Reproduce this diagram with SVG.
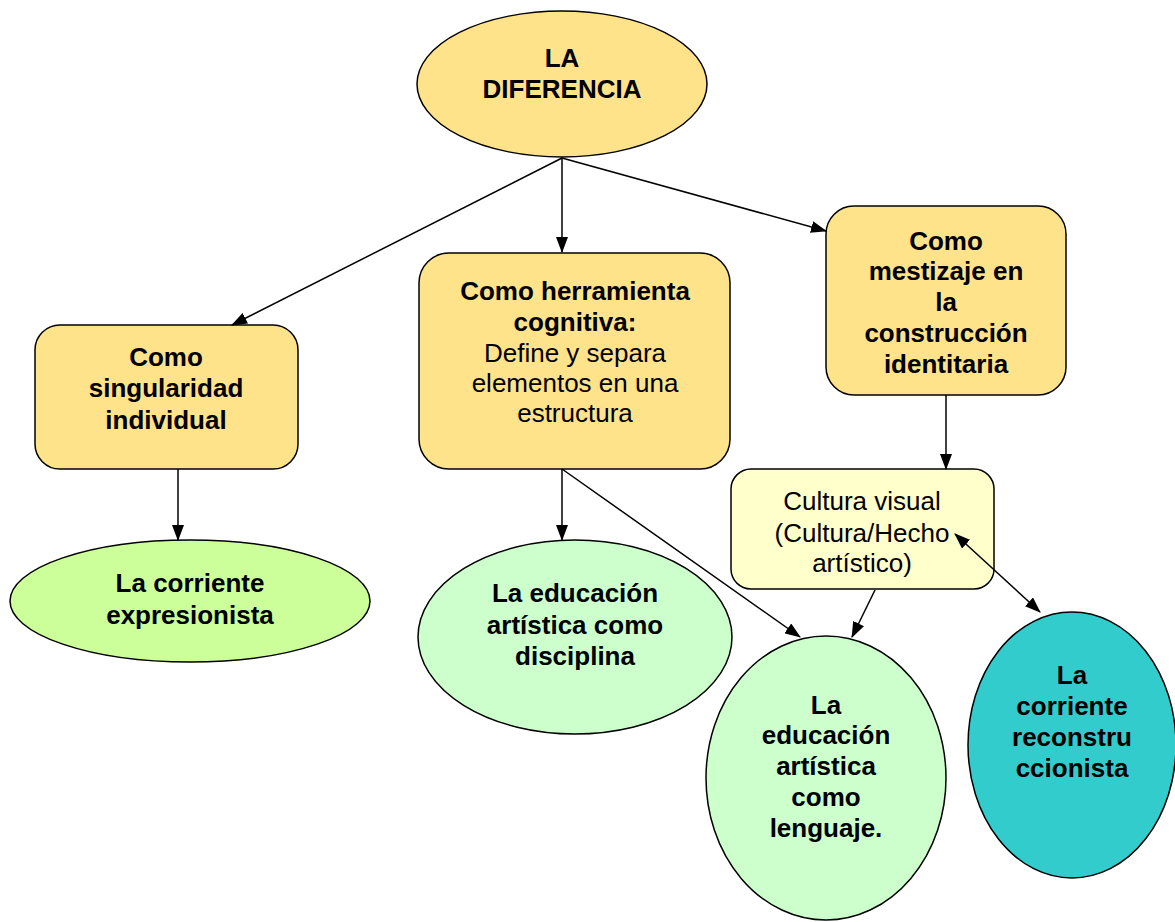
<svg xmlns="http://www.w3.org/2000/svg" width="1175" height="922" viewBox="0 0 1175 922">
<style>
.n{stroke:#000;stroke-width:1.5}
.t{font-family:"Liberation Sans",Arial,sans-serif;font-size:26px;text-anchor:middle;fill:#000}
.b{font-weight:bold}
.c{stroke:#000;stroke-width:1.5;fill:none}
</style>
<defs>
<marker id="ah" markerWidth="16" markerHeight="12" refX="15" refY="6" orient="auto" markerUnits="userSpaceOnUse">
<path d="M0,0 L16,6 L0,12 Z" fill="#000"/>
</marker>
<marker id="as" markerWidth="16" markerHeight="12" refX="1" refY="6" orient="auto" markerUnits="userSpaceOnUse">
<path d="M16,0 L0,6 L16,12 Z" fill="#000"/>
</marker>
</defs>
<rect width="1175" height="922" fill="#fff"/>
<g id="n-diferencia">
<ellipse class="n" cx="562" cy="84" rx="145" ry="73" fill="#FFE38A"/>
<text class="t b" x="562" y="67">LA</text>
<text class="t b" x="562" y="98">DIFERENCIA</text>
</g>
<g id="n-singularidad">
<rect class="n" x="35" y="325" width="263" height="144" rx="25" fill="#FFE38A"/>
<text class="t b" x="166" y="366">Como</text>
<text class="t b" x="166" y="397">singularidad</text>
<text class="t b" x="166" y="429">individual</text>
</g>
<g id="n-herramienta">
<rect class="n" x="419" y="253" width="311" height="216" rx="30" fill="#FFE38A"/>
<text class="t b" x="575" y="300">Como herramienta</text>
<text class="t b" x="575" y="331">cognitiva:</text>
<text class="t" x="575" y="362">Define y separa</text>
<text class="t" x="575" y="392">elementos en una</text>
<text class="t" x="575" y="422">estructura</text>
</g>
<g id="n-mestizaje">
<rect class="n" x="826" y="206" width="240" height="189" rx="28" fill="#FFE38A"/>
<text class="t b" x="946" y="250">Como</text>
<text class="t b" x="946" y="280">mestizaje en</text>
<text class="t b" x="946" y="311">la</text>
<text class="t b" x="946" y="342">construcción</text>
<text class="t b" x="946" y="373">identitaria</text>
</g>
<g id="n-cultura">
<rect class="n" x="731" y="469" width="263" height="120" rx="20" fill="#FFFFCC"/>
<text class="t" x="862" y="510">Cultura visual</text>
<text class="t" x="862" y="542">(Cultura/Hecho</text>
<text class="t" x="862" y="572">artístico)</text>
</g>
<g id="n-expresionista">
<ellipse class="n" cx="190" cy="601" rx="180" ry="61" fill="#CCFF99"/>
<text class="t b" x="190" y="592">La corriente</text>
<text class="t b" x="190" y="624">expresionista</text>
</g>
<g id="n-disciplina">
<ellipse class="n" cx="575" cy="637" rx="157" ry="97" fill="#CCFFCC"/>
<text class="t b" x="575" y="602">La educación</text>
<text class="t b" x="575" y="634">artística como</text>
<text class="t b" x="575" y="665">disciplina</text>
</g>
<g id="n-lenguaje">
<ellipse class="n" cx="826" cy="778" rx="120" ry="142" fill="#CCFFCC"/>
<text class="t b" x="826" y="714">La</text>
<text class="t b" x="826" y="744">educación</text>
<text class="t b" x="826" y="775">artística</text>
<text class="t b" x="826" y="806">como</text>
<text class="t b" x="826" y="837">lenguaje.</text>
</g>
<g id="n-reconstruccionista">
<ellipse class="n" cx="1072" cy="745" rx="104" ry="133" fill="#33CCCC"/>
<text class="t b" x="1072" y="684">La</text>
<text class="t b" x="1072" y="715">corriente</text>
<text class="t b" x="1072" y="746">reconstru</text>
<text class="t b" x="1072" y="777">ccionista</text>
</g>
<g id="connectors">
<line class="c" x1="562" y1="158" x2="232" y2="325" marker-end="url(#ah)"/>
<line class="c" x1="562" y1="158" x2="562" y2="252" marker-end="url(#ah)"/>
<line class="c" x1="562" y1="158" x2="826" y2="231" marker-end="url(#ah)"/>
<line class="c" x1="178" y1="469" x2="178" y2="540" marker-end="url(#ah)"/>
<line class="c" x1="562" y1="469" x2="562" y2="540" marker-end="url(#ah)"/>
<line class="c" x1="562" y1="469" x2="800" y2="637" marker-end="url(#ah)"/>
<line class="c" x1="946" y1="395" x2="946" y2="469" marker-end="url(#ah)"/>
<line class="c" x1="875" y1="590" x2="852" y2="637" marker-end="url(#ah)"/>
<line class="c" x1="955" y1="534" x2="1040" y2="612" marker-start="url(#as)" marker-end="url(#ah)"/>
</g>
</svg>
